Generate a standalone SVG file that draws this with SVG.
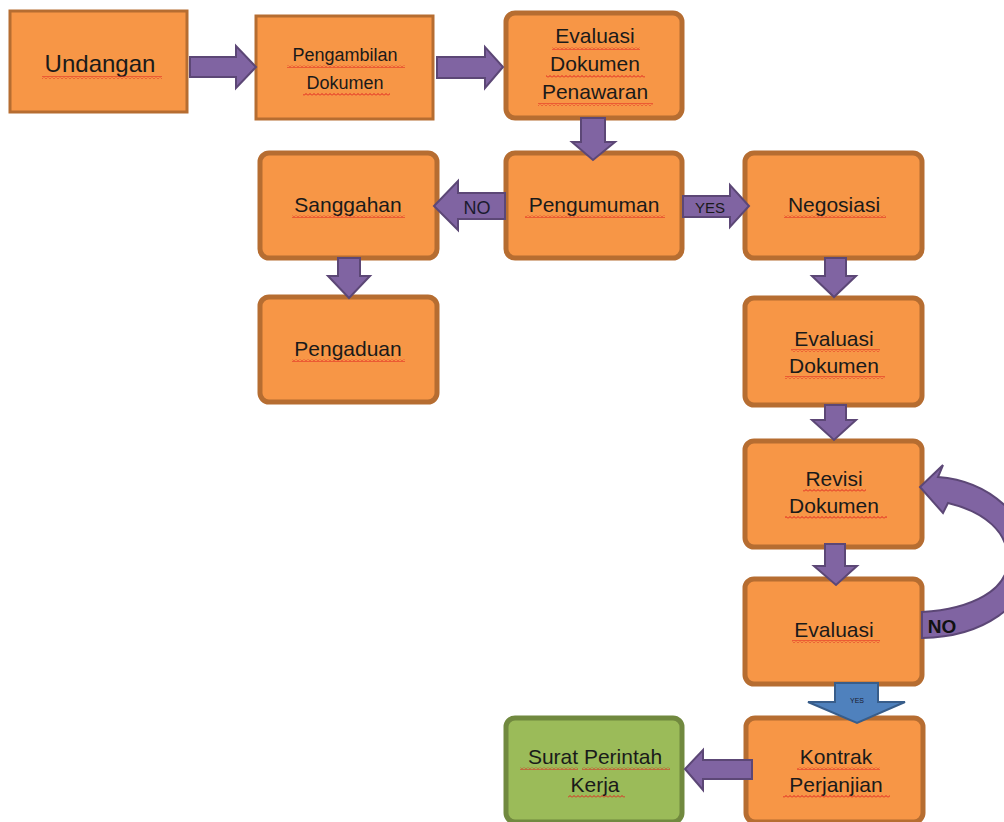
<svg xmlns="http://www.w3.org/2000/svg" width="1004" height="822" viewBox="0 0 1004 822">
<defs>
<pattern id="sq" width="4" height="3" patternUnits="userSpaceOnUse">
<polyline points="0,2.5 2,0.5 4,2.5" fill="none" stroke="#E02020" stroke-width="1"/>
</pattern>
<style>
.box{fill:#F79646;stroke:#B66D31;stroke-width:5}
.sharp{fill:#F79646;stroke:#B66D31;stroke-width:3}
.green{fill:#9BBB59;stroke:#71893F;stroke-width:5}
.arr{fill:#8064A2;stroke:#5C4776;stroke-width:2;stroke-linejoin:miter}
.blue{fill:#4F81BD;stroke:#385D8A;stroke-width:2}
text{font-family:"Liberation Sans",Arial,sans-serif;fill:#1a1a1a;text-anchor:middle}
.t{font-size:21px}
.sq{fill:url(#sq)}
.lbl{font-size:18px;fill:#1a1a2e}
</style>
</defs>
<g id="undangan">
<rect class="sharp" x="10" y="11" width="177" height="101"/>
<text x="100" y="72" style="font-size:24px">Undangan</text>
<rect class="sq" x="42" y="76" width="120" height="3"/>
</g>
<g id="pengambilan">
<rect class="sharp" x="256" y="16" width="177" height="103"/>
<text x="345" y="61" style="font-size:18px">Pengambilan</text>
<text x="345" y="89" style="font-size:18px">Dokumen</text>
<rect class="sq" x="287" y="65" width="118" height="3"/>
<rect class="sq" x="303" y="93" width="87" height="3"/>
</g>
<g id="evaluasi-penawaran">
<rect class="box" x="506" y="13" width="176" height="105" rx="9"/>
<text class="t" x="595" y="43">Evaluasi</text>
<text class="t" x="595" y="71">Dokumen</text>
<text class="t" x="595" y="99">Penawaran</text>
<rect class="sq" x="552" y="47" width="88" height="3"/>
<rect class="sq" x="546" y="75" width="99" height="3"/>
<rect class="sq" x="538" y="103" width="115" height="3"/>
</g>
<g id="pengumuman">
<rect class="box" x="506" y="153" width="176" height="105" rx="9"/>
<text class="t" x="594" y="212">Pengumuman</text>
<rect class="sq" x="525" y="215" width="140" height="3"/>
</g>
<g id="sanggahan">
<rect class="box" x="260" y="153" width="177" height="105" rx="9"/>
<text class="t" x="348" y="212">Sanggahan</text>
<rect class="sq" x="292" y="215" width="113" height="3"/>
</g>
<g id="pengaduan">
<rect class="box" x="260" y="297" width="177" height="105" rx="9"/>
<text class="t" x="348" y="356">Pengaduan</text>
<rect class="sq" x="292" y="359" width="113" height="3"/>
</g>
<g id="negosiasi">
<rect class="box" x="745" y="153" width="177" height="105" rx="9"/>
<text class="t" x="834" y="212">Negosiasi</text>
<rect class="sq" x="784" y="215" width="102" height="3"/>
</g>
<g id="evaluasi-dokumen">
<rect class="box" x="745" y="298" width="177" height="107" rx="9"/>
<text class="t" x="834" y="346">Evaluasi</text>
<text class="t" x="834" y="373">Dokumen</text>
<rect class="sq" x="791" y="349" width="89" height="3"/>
<rect class="sq" x="785" y="376" width="100" height="3"/>
</g>
<g id="revisi-dokumen">
<rect class="box" x="745" y="441" width="177" height="106" rx="9"/>
<text class="t" x="834" y="486">Revisi</text>
<text class="t" x="834" y="513">Dokumen</text>
<rect class="sq" x="803" y="489" width="63" height="3"/>
<rect class="sq" x="785" y="516" width="102" height="3"/>
</g>
<g id="evaluasi">
<rect class="box" x="745" y="579" width="177" height="105" rx="9"/>
<text class="t" x="834" y="637">Evaluasi</text>
<rect class="sq" x="792" y="640" width="88" height="3"/>
</g>
<g id="kontrak">
<rect class="box" x="746" y="718" width="177" height="104" rx="9"/>
<text class="t" x="836" y="764">Kontrak</text>
<text class="t" x="836" y="792">Perjanjian</text>
<rect class="sq" x="797" y="767" width="83" height="3"/>
<rect class="sq" x="783" y="795" width="107" height="3"/>
</g>
<g id="surat">
<rect class="green" x="506" y="718" width="176" height="104" rx="9"/>
<text class="t" x="595" y="764">Surat Perintah</text>
<text class="t" x="595" y="792">Kerja</text>
<rect class="sq" x="520" y="767" width="58" height="3"/>
<rect class="sq" x="582" y="767" width="88" height="3"/>
<rect class="sq" x="568" y="795" width="57" height="3"/>
</g>
<g id="connectors">
<polygon class="arr" points="190,57 236,57 236,46 256,67 236,88 236,77 190,77"/>
<polygon class="arr" points="437,57 485,57 485,47 503,67 485,88 485,78 437,78"/>
<polygon class="arr" points="581,118 605,118 605,142 615,142 593,160 572,142 581,142"/>
<polygon class="arr" points="505,193 458,193 458,181 434,206 458,230 458,219 505,219"/>
<text class="lbl" x="477" y="214">NO</text>
<polygon class="arr" points="683,196 730,196 730,185 749,206 730,227 730,217 683,217"/>
<text x="710" y="213" style="font-size:15px">YES</text>
<polygon class="arr" points="338,258 360,258 360,276 370,276 349,298 328,276 338,276"/>
<polygon class="arr" points="825,258 846,258 846,276 856,276 834,297 812,276 825,276"/>
<polygon class="arr" points="825,405 846,405 846,420 856,420 834,440 812,420 825,420"/>
<polygon class="arr" points="825,544 845,544 845,566 857,566 836,585 814,566 825,566"/>
<path class="arr" d="M922,612 C972,609 1008,590 1008,560 C1008,532 985,512 948,503 L943,513 L920,487 L943,465 L938,477 C990,481 1030,518 1030,560 C1030,606 982,637 922,638 Z"/>
<text x="942" y="633" style="font-size:19px;font-weight:bold;fill:#111">NO</text>
<polygon class="blue" points="835,683 878,683 878,702 905,702 857,723 808,702 835,702"/>
<text x="857" y="703" style="font-size:7px;fill:#1a1a2e">YES</text>
<polygon class="arr" points="752,760 703,760 703,750 685,769 703,790 703,779 752,779"/>
</g>
</svg>
